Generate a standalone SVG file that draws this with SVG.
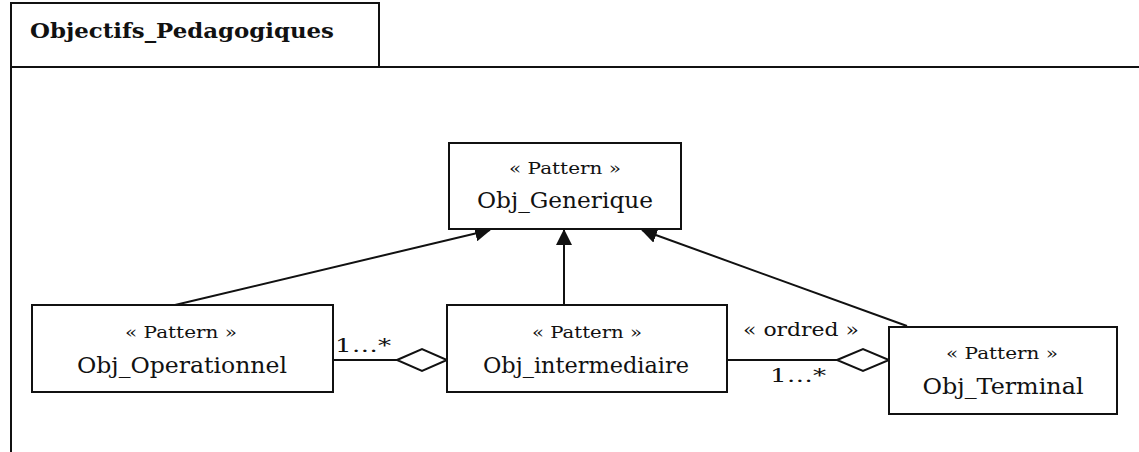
<svg xmlns="http://www.w3.org/2000/svg" width="1139" height="452" viewBox="0 0 1139 452">
  <style>
    .box { fill: #fff; stroke: #111; stroke-width: 2; }
    .edge { fill: none; stroke: #111; stroke-width: 2; }
    .diamond { fill: #fff; stroke: #111; stroke-width: 2; }
    text { font-family: 'DejaVu Serif', 'Liberation Serif', serif; fill: #111; text-anchor: middle; }
    .st { font-size: 17px; }
    .nm { font-size: 23px; }
    .lbl { font-size: 19px; }
  </style>
  <defs>
    <marker id="gen" viewBox="0 0 16 16" refX="15" refY="8" markerWidth="16" markerHeight="16" markerUnits="userSpaceOnUse" orient="auto">
      <path d="M0,0 L16,8 L0,16 Z" fill="#111"/>
    </marker>
  </defs>

  <rect width="1139" height="452" fill="#fff"/>

  <!-- package frame -->
  <g id="package">
    <rect class="box" x="11" y="3" width="368" height="64"/>
    <path class="edge" d="M11,67 L1139,67 M11,67 L11,452"/>
    <text x="182" y="38" font-size="21" font-weight="bold" textLength="304" lengthAdjust="spacingAndGlyphs">Objectifs_Pedagogiques</text>
  </g>

  <!-- connectors -->
  <g id="connectors">
    <line class="edge" x1="175" y1="305" x2="490" y2="230" marker-end="url(#gen)"/>
    <line class="edge" x1="564" y1="305" x2="564" y2="230" marker-end="url(#gen)"/>
    <line class="edge" x1="907" y1="326" x2="642" y2="230" marker-end="url(#gen)"/>
    <line class="edge" x1="333" y1="360" x2="397" y2="360"/>
    <path class="diamond" d="M397,360 L422,349 L447,360 L422,371 Z"/>
    <line class="edge" x1="727" y1="360" x2="837" y2="360"/>
    <path class="diamond" d="M837,360 L863,349 L889,360 L863,371 Z"/>
    <text class="lbl" x="363" y="352" textLength="56" lengthAdjust="spacingAndGlyphs">1…*</text>
    <text class="lbl" x="801" y="336" textLength="116" lengthAdjust="spacingAndGlyphs">« ordred »</text>
    <text class="lbl" x="798" y="382" textLength="56" lengthAdjust="spacingAndGlyphs">1…*</text>
  </g>

  <g id="obj_generique">
    <rect class="box" x="449" y="143" width="232" height="86"/>
    <text class="st" x="565" y="174" textLength="112" lengthAdjust="spacingAndGlyphs">« Pattern »</text>
    <text class="nm" x="565" y="208" textLength="176" lengthAdjust="spacingAndGlyphs">Obj_Generique</text>
  </g>

  <g id="obj_operationnel">
    <rect class="box" x="32" y="305" width="301" height="87"/>
    <text class="st" x="181" y="338" textLength="112" lengthAdjust="spacingAndGlyphs">« Pattern »</text>
    <text class="nm" x="182" y="373" textLength="210" lengthAdjust="spacingAndGlyphs">Obj_Operationnel</text>
  </g>

  <g id="obj_intermediaire">
    <rect class="box" x="447" y="305" width="280" height="87"/>
    <text class="st" x="587" y="338" textLength="110" lengthAdjust="spacingAndGlyphs">« Pattern »</text>
    <text class="nm" x="586" y="373" textLength="206" lengthAdjust="spacingAndGlyphs">Obj_intermediaire</text>
  </g>

  <g id="obj_terminal">
    <rect class="box" x="889" y="327" width="228" height="87"/>
    <text class="st" x="1002" y="359" textLength="112" lengthAdjust="spacingAndGlyphs">« Pattern »</text>
    <text class="nm" x="1003" y="394" textLength="161" lengthAdjust="spacingAndGlyphs">Obj_Terminal</text>
  </g>
</svg>
